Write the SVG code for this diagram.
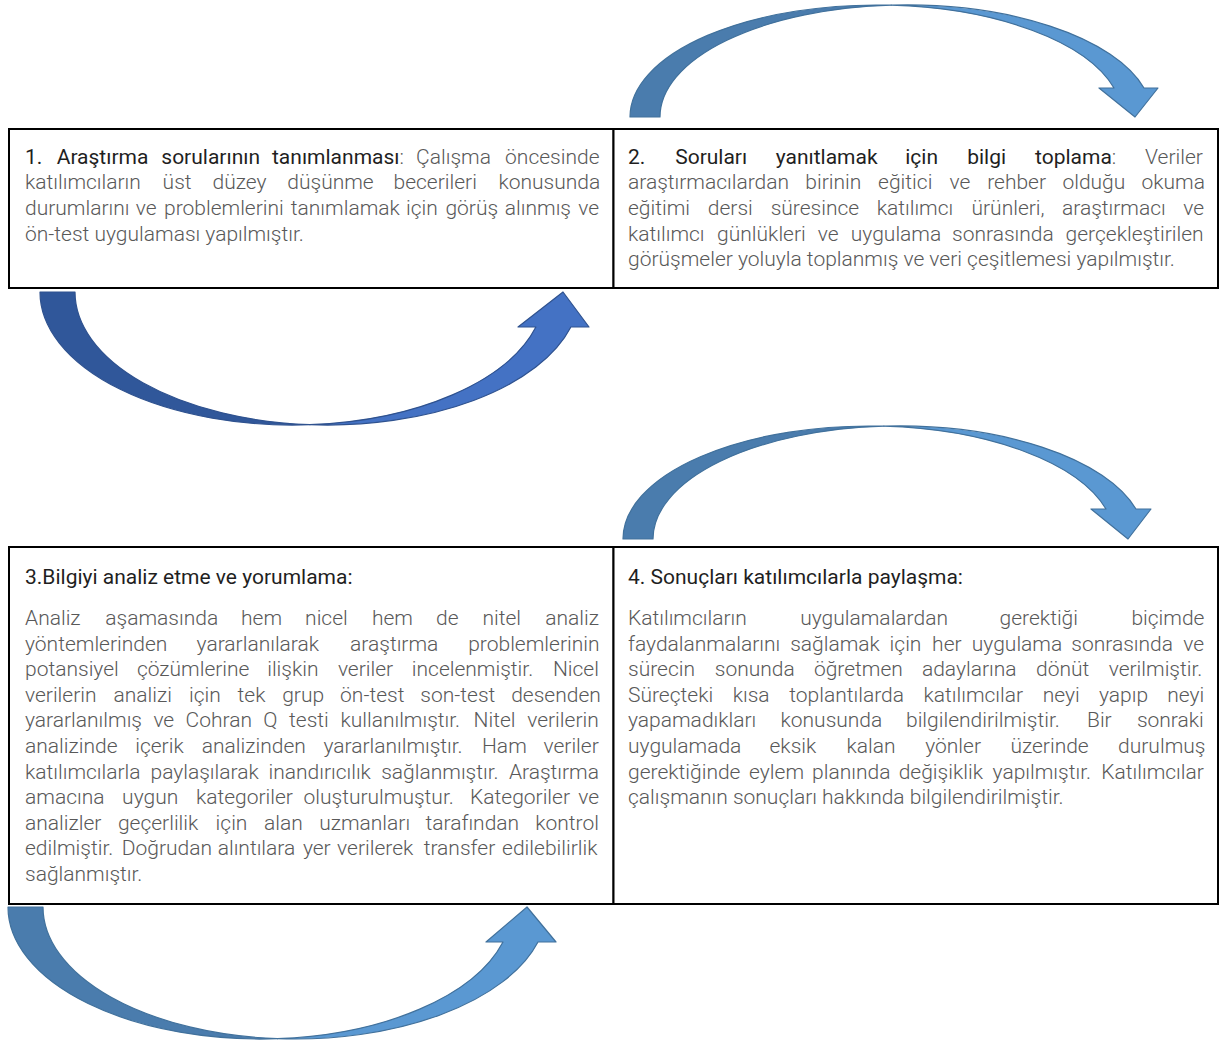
<svg xmlns="http://www.w3.org/2000/svg" width="1219" height="1046" viewBox="0 0 1219 1046">
  <style>
    .cell { fill: #ffffff; stroke: #000000; stroke-width: 2; }
    .b { font-family: Roboto, "Liberation Sans", sans-serif; font-weight: 300; font-size: 21px; fill: #595959; }
    .t { font-weight: 400; fill: #1f1f1f; }
    .arrow { stroke-width: 1.2; stroke-linejoin: round; }
    .steel-back { fill: #4a7cad; stroke: #41719c; }
    .steel-front { fill: #5a98d2; stroke: #41719c; }
    .navy-back { fill: #30579a; stroke: #2f528f; }
    .navy-front { fill: #4472c4; stroke: #2f528f; }
  </style>

  <rect width="1219" height="1046" fill="#ffffff"/>

  <!-- curved connectors between the steps -->
  <g id="connectors">
    <!-- over step 1 -> 2 -->
    <g id="arrow-top-1">
      <path class="arrow steel-back" d="M630,117 A246.2,112 0 0,1 891.2,5.2 A246.2,112 0 0,0 660,117 Z"/>
      <path class="arrow steel-front" d="M891.2,5.2 A246.2,112 0 0,1 1144,88 L1158,88 L1135,117 L1099,88 L1114,88 A246.2,112 0 0,0 891.2,5.2 Z"/>
    </g>
    <!-- under step 1 -->
    <g id="arrow-bottom-1">
      <path class="arrow navy-back" d="M40,292 A252.4,133 0 0,0 309.9,424.7 A252.4,133 0 0,1 75,292 Z"/>
      <path class="arrow navy-front" d="M309.9,424.7 A252.4,133 0 0,0 570.9,327 L589,327 L563,292 L518,327 L535.9,327 A252.4,133 0 0,1 309.9,424.7 Z"/>
    </g>
    <!-- over step 3 -> 4 -->
    <g id="arrow-top-2">
      <path class="arrow steel-back" d="M623,539 A245.9,113 0 0,1 883.9,426.2 A245.9,113 0 0,0 653,539 Z"/>
      <path class="arrow steel-front" d="M883.9,426.2 A245.9,113 0 0,1 1136,509 L1151,509 L1128,539 L1091,509 L1106,509 A245.9,113 0 0,0 883.9,426.2 Z"/>
    </g>
    <!-- under step 3 -->
    <g id="arrow-bottom-2">
      <path class="arrow steel-back" d="M8,907 A252,132 0 0,0 277.5,1038.7 A252,132 0 0,1 43,907 Z"/>
      <path class="arrow steel-front" d="M277.5,1038.7 A252,132 0 0,0 538,942 L556,942 L527,907 L486,942 L503,942 A252,132 0 0,1 277.5,1038.7 Z"/>
    </g>
  </g>

  <!-- step 1 -->
  <g id="node-1">
    <rect class="cell" x="9" y="129" width="604.5" height="159"/>
    <text class="b" y="163.5"><tspan class="t" x="25">1.</tspan><tspan class="t" x="56.7">Araştırma</tspan><tspan class="t" x="161.3">sorularının</tspan><tspan class="t" x="272">tanımlanması</tspan><tspan>:</tspan><tspan x="416.1">Çalışma</tspan><tspan x="505.1">öncesinde</tspan></text>
    <text class="b" y="189.2"><tspan x="25">katılımcıların</tspan><tspan x="162.6">üst</tspan><tspan x="212.5">düzey</tspan><tspan x="287.3">düşünme</tspan><tspan x="393.5">becerileri</tspan><tspan x="498.4">konusunda</tspan></text>
    <text class="b" y="214.9"><tspan x="25">durumlarını</tspan><tspan x="135.8">ve</tspan><tspan x="164">problemlerini</tspan><tspan x="290.8">tanımlamak</tspan><tspan x="406">için</tspan><tspan x="445.4">görüş</tspan><tspan x="504.8">alınmış</tspan><tspan x="578.2">ve</tspan></text>
    <text class="b" x="25" y="240.6">ön-test uygulaması yapılmıştır.</text>
  </g>

  <!-- step 2 -->
  <g id="node-2">
    <rect class="cell" x="613.5" y="129" width="604.5" height="159"/>
    <text class="b" y="163.5"><tspan class="t" x="628">2.</tspan><tspan class="t" x="675.2">Soruları</tspan><tspan class="t" x="775.7">yanıtlamak</tspan><tspan class="t" x="905.2">için</tspan><tspan class="t" x="967.2">bilgi</tspan><tspan class="t" x="1035">toplama</tspan><tspan>:</tspan><tspan x="1145.1">Veriler</tspan></text>
    <text class="b" y="189.2"><tspan x="628">araştırmacılardan</tspan><tspan x="805.3">birinin</tspan><tspan x="878.1">eğitici</tspan><tspan x="949.6">ve</tspan><tspan x="987.2">rehber</tspan><tspan x="1062.4">olduğu</tspan><tspan x="1141.5">okuma</tspan></text>
    <text class="b" y="214.9"><tspan x="628">eğitimi</tspan><tspan x="707.8">dersi</tspan><tspan x="770.7">süresince</tspan><tspan x="876.7">katılımcı</tspan><tspan x="971.5">ürünleri,</tspan><tspan x="1062">araştırmacı</tspan><tspan x="1183.2">ve</tspan></text>
    <text class="b" y="240.6"><tspan x="628">katılımcı</tspan><tspan x="717.1">günlükleri</tspan><tspan x="817.8">ve</tspan><tspan x="850.8">uygulama</tspan><tspan x="952">sonrasında</tspan><tspan x="1065.6">gerçekleştirilen</tspan></text>
    <text class="b" x="628" y="266.3">görüşmeler yoluyla toplanmış ve veri çeşitlemesi yapılmıştır.</text>
  </g>

  <!-- step 3 -->
  <g id="node-3">
    <rect class="cell" x="9" y="547" width="604.5" height="357"/>
    <text class="b t" x="25" y="584">3.Bilgiyi analiz etme ve yorumlama:</text>
    <text class="b" y="625"><tspan x="25">Analiz</tspan><tspan x="105.3">aşamasında</tspan><tspan x="241">hem</tspan><tspan x="305.1">nicel</tspan><tspan x="371.9">hem</tspan><tspan x="436.1">de</tspan><tspan x="482.4">nitel</tspan><tspan x="545.3">analiz</tspan></text>
    <text class="b" y="650.6"><tspan x="25">yöntemlerinden</tspan><tspan x="196.6">yararlanılarak</tspan><tspan x="350.1">araştırma</tspan><tspan x="468.2">problemlerinin</tspan></text>
    <text class="b" y="676.2"><tspan x="25">potansiyel</tspan><tspan x="136.9">çözümlerine</tspan><tspan x="267.2">ilişkin</tspan><tspan x="337.9">veriler</tspan><tspan x="411.8">incelenmiştir.</tspan><tspan x="552.9">Nicel</tspan></text>
    <text class="b" y="701.8"><tspan x="25">verilerin</tspan><tspan x="113.5">analizi</tspan><tspan x="189">için</tspan><tspan x="237.6">tek</tspan><tspan x="282.2">grup</tspan><tspan x="340.1">ön-test</tspan><tspan x="420.3">son-test</tspan><tspan x="511.2">desenden</tspan></text>
    <text class="b" y="727.4"><tspan x="25">yararlanılmış</tspan><tspan x="153.4">ve</tspan><tspan x="185.6">Cohran</tspan><tspan x="263.2">Q</tspan><tspan x="289.1">testi</tspan><tspan x="340.4">kullanılmıştır.</tspan><tspan x="473.6">Nitel</tspan><tspan x="527.2">verilerin</tspan></text>
    <text class="b" y="753"><tspan x="25">analizinde</tspan><tspan x="135.2">içerik</tspan><tspan x="201.8">analizinden</tspan><tspan x="323.4">yararlanılmıştır.</tspan><tspan x="482">Ham</tspan><tspan x="543.5">veriler</tspan></text>
    <text class="b" y="778.6"><tspan x="25">katılımcılarla</tspan><tspan x="150.5">paylaşılarak</tspan><tspan x="268.5">inandırıcılık</tspan><tspan x="381.2">sağlanmıştır.</tspan><tspan x="508.9">Araştırma</tspan></text>
    <text class="b" y="804.2"><tspan x="25">amacına</tspan><tspan x="122.1">uygun</tspan><tspan x="195.9">kategoriler</tspan><tspan x="303.5">oluşturulmuştur.</tspan><tspan x="470">Kategoriler</tspan><tspan x="578.2">ve</tspan></text>
    <text class="b" y="829.8"><tspan x="25">analizler</tspan><tspan x="117.9">geçerlilik</tspan><tspan x="215.6">için</tspan><tspan x="264.1">alan</tspan><tspan x="319.2">uzmanları</tspan><tspan x="425.5">tarafından</tspan><tspan x="535.2">kontrol</tspan></text>
    <text class="b" y="855.4"><tspan x="25">edilmiştir.</tspan><tspan x="121.7">Doğrudan</tspan><tspan x="217.7">alıntılara</tspan><tspan x="302.9">yer</tspan><tspan x="337.1">verilerek</tspan><tspan x="423.7">transfer</tspan><tspan x="502.1">edilebilirlik</tspan></text>
    <text class="b" x="25" y="881">sağlanmıştır.</text>
  </g>

  <!-- step 4 -->
  <g id="node-4">
    <rect class="cell" x="613.5" y="547" width="604.5" height="357"/>
    <text class="b t" x="628" y="584">4. Sonuçları katılımcılarla paylaşma:</text>
    <text class="b" y="625"><tspan x="628">Katılımcıların</tspan><tspan x="800.2">uygulamalardan</tspan><tspan x="999.6">gerektiği</tspan><tspan x="1131.4">biçimde</tspan></text>
    <text class="b" y="650.6"><tspan x="628">faydalanmalarını</tspan><tspan x="790.2">sağlamak</tspan><tspan x="889.6">için</tspan><tspan x="932.1">her</tspan><tspan x="971.8">uygulama</tspan><tspan x="1071.3">sonrasında</tspan><tspan x="1183.2">ve</tspan></text>
    <text class="b" y="676.2"><tspan x="628">sürecin</tspan><tspan x="714.8">sonunda</tspan><tspan x="813.9">öğretmen</tspan><tspan x="921.9">adaylarına</tspan><tspan x="1036.1">dönüt</tspan><tspan x="1108.7">verilmiştir.</tspan></text>
    <text class="b" y="701.8"><tspan x="628">Süreçteki</tspan><tspan x="732.7">kısa</tspan><tspan x="789.3">toplantılarda</tspan><tspan x="923.5">katılımcılar</tspan><tspan x="1042.8">neyi</tspan><tspan x="1099">yapıp</tspan><tspan x="1167.2">neyi</tspan></text>
    <text class="b" y="727.4"><tspan x="628">yapamadıkları</tspan><tspan x="780.5">konusunda</tspan><tspan x="906">bilgilendirilmiştir.</tspan><tspan x="1087">Bir</tspan><tspan x="1136.9">sonraki</tspan></text>
    <text class="b" y="753"><tspan x="628">uygulamada</tspan><tspan x="769.5">eksik</tspan><tspan x="846.4">kalan</tspan><tspan x="925.2">yönler</tspan><tspan x="1010.4">üzerinde</tspan><tspan x="1118.1">durulmuş</tspan></text>
    <text class="b" y="778.6"><tspan x="628">gerektiğinde</tspan><tspan x="749.1">eylem</tspan><tspan x="812.1">planında</tspan><tspan x="898.7">değişiklik</tspan><tspan x="992.6">yapılmıştır.</tspan><tspan x="1101.3">Katılımcılar</tspan></text>
    <text class="b" x="628" y="804.2">çalışmanın sonuçları hakkında bilgilendirilmiştir.</text>
  </g>
</svg>
